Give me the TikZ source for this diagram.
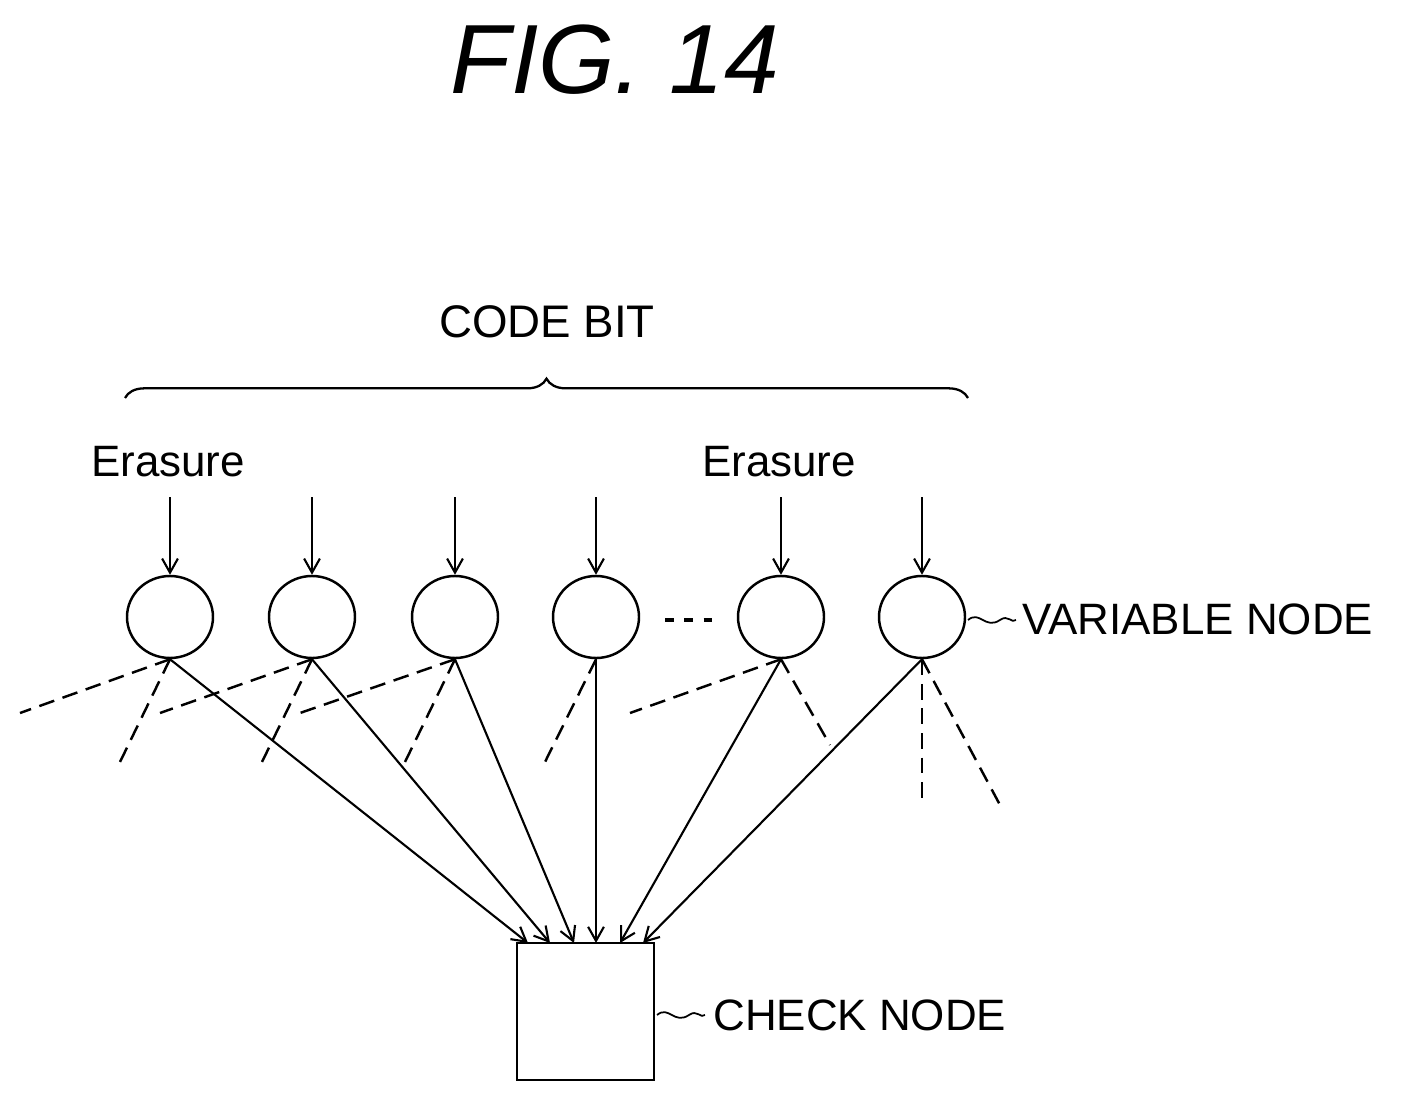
\documentclass[tikz,border=0pt]{standalone}
\usepackage{fontspec}
\setmainfont{Liberation Sans}
\usetikzlibrary{decorations.pathreplacing,arrows.meta,shapes.geometric}
\begin{document}
\begin{tikzpicture}[x=0.02cm,y=-0.02cm,
  vn/.style={draw,line width=1.4pt,ellipse,minimum width=86*0.02cm,minimum height=82*0.02cm,inner sep=0},
  arr/.style={line width=1.2pt,-{Straight Barb[length=8pt,width=9pt]}},
  dl/.style={line width=1.4pt,dash pattern=on 9pt off 5pt},
  lbl/.style={font=\fontsize{25}{25}\selectfont,anchor=west,inner sep=0}]
\useasboundingbox (0,0) rectangle (1402,1101);
\node[font=\fontsize{56}{56}\selectfont\itshape] (t) at (615,60) {FIG. 14};
\node[font=\fontsize{26}{26}\selectfont] (cb) at (547,322) {CODE BIT};
\draw[line width=1.3pt,decorate,decoration={brace,amplitude=11pt}] (125,398) -- (968,398);
\node[font=\fontsize{25}{25}\selectfont] (e1) at (168,462) {Erasure};
\node[font=\fontsize{25}{25}\selectfont] (e2) at (779,462) {Erasure};
\foreach \n/\x in {1/170,2/312,3/455,4/596,5/781,6/922}{
  \node[vn] (v\n) at (\x,617) {};
  \coordinate (i\n) at (\x,497);
  \draw[arr] (i\n) -- (v\n.north);
}
\coordinate (d1) at (665,620);
\coordinate (d2) at (712,620);
\draw[line width=2.5pt,dash pattern=on 5pt off 6pt] (d1) -- (d2);
\node[draw,line width=1.4pt,minimum width=137*0.02cm,minimum height=137*0.02cm,inner sep=0] (c) at (585.5,1011.5) {};
\draw[line width=1pt] (968,620) .. controls (980,610) and (985,630) .. (1000,620) .. controls (1008,614) and (1012,624) .. (1016,620);
\node[lbl] (vl) at (1022,619) {VARIABLE NODE};
\draw[line width=1pt] (657,1015) .. controls (669,1005) and (674,1025) .. (689,1015) .. controls (697,1009) and (701,1019) .. (705,1015);
\node[lbl] (cl) at (713,1015) {CHECK NODE};
\foreach \n/\tx in {1/528,2/550,3/574,4/596,5/620,6/643}{
  \coordinate (c\n) at (\tx,943);
  \draw[arr] (v\n.south) -- (c\n);
}
\foreach \n/\a/\b in {1/20/713,1/120/762,2/160/713,2/262/762,3/300/713,3/405/762,4/545/762,5/630/713,5/830/745,6/922/805,6/1000/805}{
  \draw[dl] (v\n.south) -- (\a,\b);
}
\end{tikzpicture}
\end{document}
